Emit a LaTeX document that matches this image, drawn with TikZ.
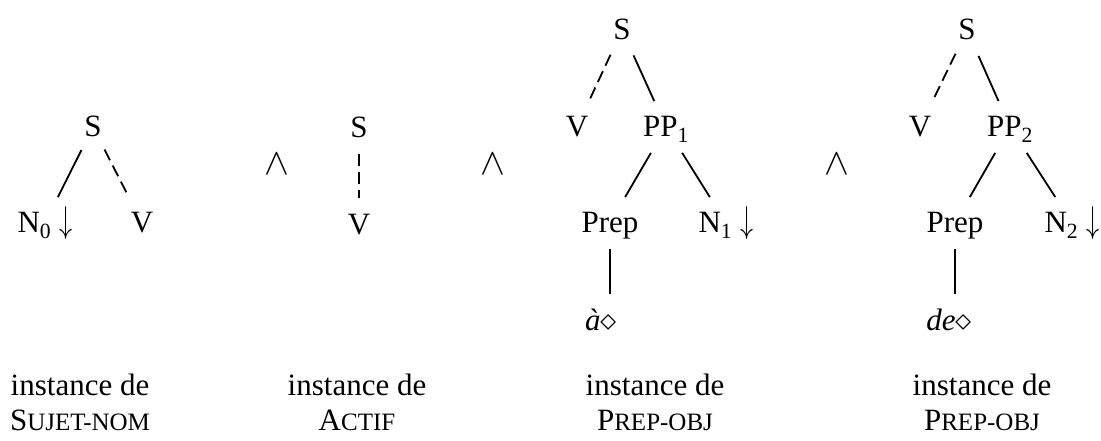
\documentclass[tikz,border=0pt]{standalone}
\usepackage{fontspec}
\setmainfont{Liberation Serif}
\newcommand\fsc[2]{#1{\fontsize{25}{28}\selectfont #2}}
\newcommand\subst{\hspace{8pt}\scalebox{1.05}[1.5]{$\downarrow$}}
\newcommand\conj{\scalebox{1.5}{$\wedge$}}
\newcommand\anch{\scalebox{1.3}{$\diamond$}}
\begin{document}
\begin{tikzpicture}[x=1pt, y=-1pt, line width=1.8pt,
  lbl/.style={font=\fontsize{31}{36}\selectfont, text height=20pt, text depth=0pt, inner xsep=2pt, inner ysep=15pt},
  capt/.style={font=\fontsize{31}{36}\selectfont, anchor=base, inner sep=0pt},
  dsh/.style={dash pattern=on 12pt off 6pt}]
  \useasboundingbox (0,0) rectangle (1101,441);
  \node[lbl] (s1) at (93,127) {S};
  \node[lbl] (n0) at (45,223) {N\textsubscript{0}\subst};
  \node[lbl] (v1) at (142,223) {V};
  \draw (s1) -- (n0);
  \draw[dsh] (s1) -- (v1);
  \node[lbl] (and1) at (277,165) {\conj};
  \node[lbl] (s2) at (359,128) {S};
  \node[lbl] (v2) at (359,224) {V};
  \draw[dsh] (s2) -- (v2);
  \node[lbl] (and2) at (493,165) {\conj};
  \node[lbl] (s3) at (622,30) {S};
  \node[lbl] (v3) at (577,127) {V};
  \node[lbl] (pp1) at (666,127) {PP\textsubscript{1}};
  \node[lbl] (prep1) at (610,223) {Prep};
  \node[lbl] (n1) at (726,223) {N\textsubscript{1}\subst};
  \node[lbl] (a1) at (601,320) {\textit{à}\anch};
  \draw[dsh] (s3) -- (v3);
  \draw (s3) -- (pp1);
  \draw (pp1) -- (prep1);
  \draw (pp1) -- (n1);
  \draw (prep1.south) -- (prep1.south |- a1.north);
  \node[lbl] (and3) at (837,165) {\conj};
  \node[lbl] (s4) at (967,30) {S};
  \node[lbl] (v4) at (920,127) {V};
  \node[lbl] (pp2) at (1010,127) {PP\textsubscript{2}};
  \node[lbl] (prep2) at (955,223) {Prep};
  \node[lbl] (n2) at (1072,223) {N\textsubscript{2}\subst};
  \node[lbl] (de2) at (949,320) {\textit{de}\anch};
  \draw[dsh] (s4) -- (v4);
  \draw (s4) -- (pp2);
  \draw (pp2) -- (prep2);
  \draw (pp2) -- (n2);
  \draw (prep2.south) -- (prep2.south |- de2.north);
  \node[capt] (inst1) at (80,395) {instance de};
  \node[capt] (type1) at (80,430) {\fsc{S}{UJET-NOM}};
  \node[capt] (inst2) at (357,395) {instance de};
  \node[capt] (type2) at (357,430) {\fsc{A}{CTIF}};
  \node[capt] (inst3) at (655,395) {instance de};
  \node[capt] (type3) at (655,430) {\fsc{P}{REP-OBJ}};
  \node[capt] (inst4) at (982,395) {instance de};
  \node[capt] (type4) at (982,430) {\fsc{P}{REP-OBJ}};
\end{tikzpicture}
\end{document}
